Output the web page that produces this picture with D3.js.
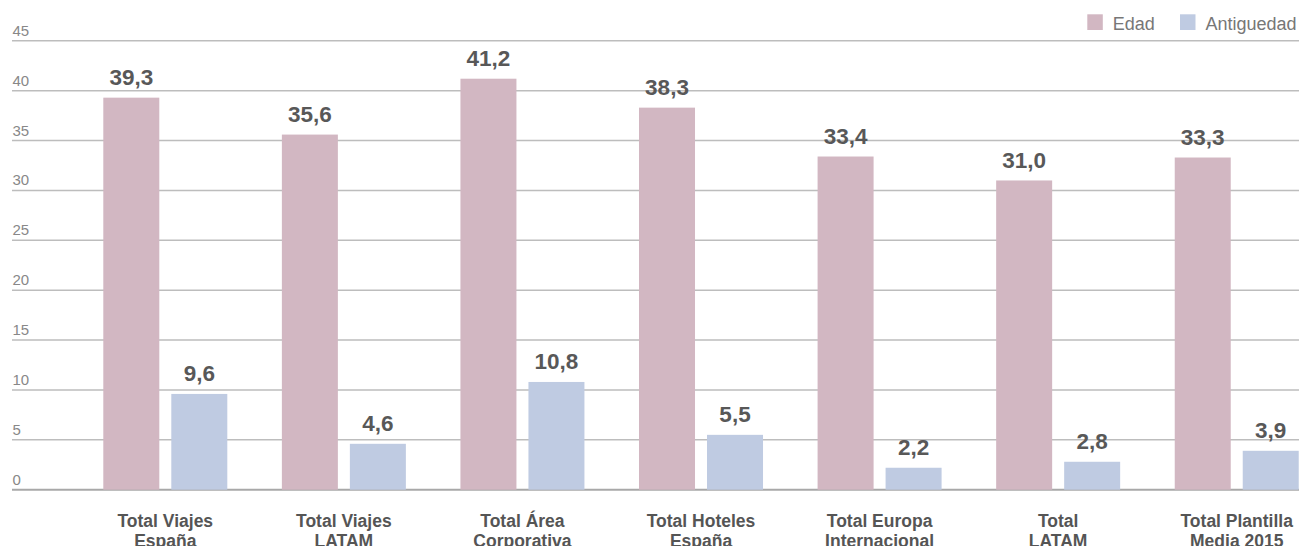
<!DOCTYPE html>
<html>
<head>
<meta charset="utf-8">
<script src="https://cdn.jsdelivr.net/npm/d3@7"></script>
<style>
html,body{margin:0;padding:0;background:#fff;overflow:hidden;}
svg{display:block;font-family:"Liberation Sans",Arial,Helvetica,sans-serif;}
</style>
</head>
<body>
<svg id="chart" width="1299" height="546"></svg>
<script>
const categories = [
  ["Total Viajes","España"],
  ["Total Viajes","LATAM"],
  ["Total Área","Corporativa"],
  ["Total Hoteles","España"],
  ["Total Europa","Internacional"],
  ["Total","LATAM"],
  ["Total Plantilla","Media 2015"]
];
const seriesNames = ["Edad","Antiguedad"];
const edad = [39.3, 35.6, 41.2, 38.3, 33.4, 31.0, 33.3];
const antiguedad = [9.6, 4.6, 10.8, 5.5, 2.2, 2.8, 3.9];
const yTicks = [0,5,10,15,20,25,30,35,40,45];
const colors = ["#d2b7c2","#bfcbe2"];

const svg = d3.select("#chart");
const W = 1299, H = 546;

const y = d3.scaleLinear().domain([0,45]).range([489.7,40.8]);
const catKeys = categories.map((c,i)=>i);
const x0 = d3.scaleBand().domain(catKeys).range([76,1326]).padding(0);
const x1 = d3.scaleBand().domain(seriesNames).range([27.3,151.3]).paddingInner(0.1765).paddingOuter(0);
const color = d3.scaleOrdinal().domain(seriesNames).range(colors);

// gridlines
const grid = svg.append("g");
grid.selectAll("line").data(yTicks).join("line")
  .attr("x1",12).attr("x2",W)
  .attr("y1",d=>y(d)).attr("y2",d=>y(d))
  .attr("stroke",d=>d===0?"#a8a8a8":"#bdbdbd")
  .attr("stroke-width",d=>d===0?2:1.5);
grid.selectAll("text").data(yTicks).join("text")
  .attr("x",12.5).attr("y",d=>y(d)-5)
  .attr("font-size",15).attr("fill","#888")
  .text(d=>d);

// bars
const fmt = v => d3.format(".1f")(v).replace(".",",");
const data = catKeys.map(i=>({i, vals:[{k:"Edad",v:edad[i]},{k:"Antiguedad",v:antiguedad[i]}]}));
const groups = svg.append("g").selectAll("g").data(data).join("g")
  .attr("transform",d=>`translate(${x0(d.i)},0)`);
groups.selectAll("rect").data(d=>d.vals).join("rect")
  .attr("x",d=>x1(d.k)).attr("width",x1.bandwidth())
  .attr("y",d=>y(d.v)).attr("height",d=>y(0)-y(d.v))
  .attr("fill",d=>color(d.k));
groups.selectAll("text.val").data(d=>d.vals).join("text")
  .attr("class","val")
  .attr("x",d=>x1(d.k)+x1.bandwidth()/2)
  .attr("y",d=>y(d.v)-12.5)
  .attr("text-anchor","middle")
  .attr("font-size",22.5).attr("font-weight","bold").attr("fill","#585858")
  .text(d=>fmt(d.v));

// category labels
const cl = svg.append("g").selectAll("text").data(data).join("text")
  .attr("x",d=>x0(d.i)+x0.bandwidth()/2)
  .attr("y",526.5)
  .attr("text-anchor","middle")
  .attr("font-size",17.5).attr("font-weight","bold").attr("fill","#555");
cl.selectAll("tspan").data(d=>categories[d.i]).join("tspan")
  .attr("x",function(){return d3.select(this.parentNode).attr("x");})
  .attr("dy",(d,j)=>j===0?0:20.5)
  .text(d=>d);

// legend
const legX = [1087.3, 1180];
const leg = svg.append("g").selectAll("g").data(seriesNames).join("g")
  .attr("transform",(d,i)=>`translate(${legX[i]},14.3)`);
leg.append("rect").attr("width",15.5).attr("height",15.7).attr("fill",d=>color(d));
leg.append("text").attr("x",25.5).attr("y",15.5)
  .attr("font-size",18).attr("fill","#777").text(d=>d);
</script>
</body>
</html>
